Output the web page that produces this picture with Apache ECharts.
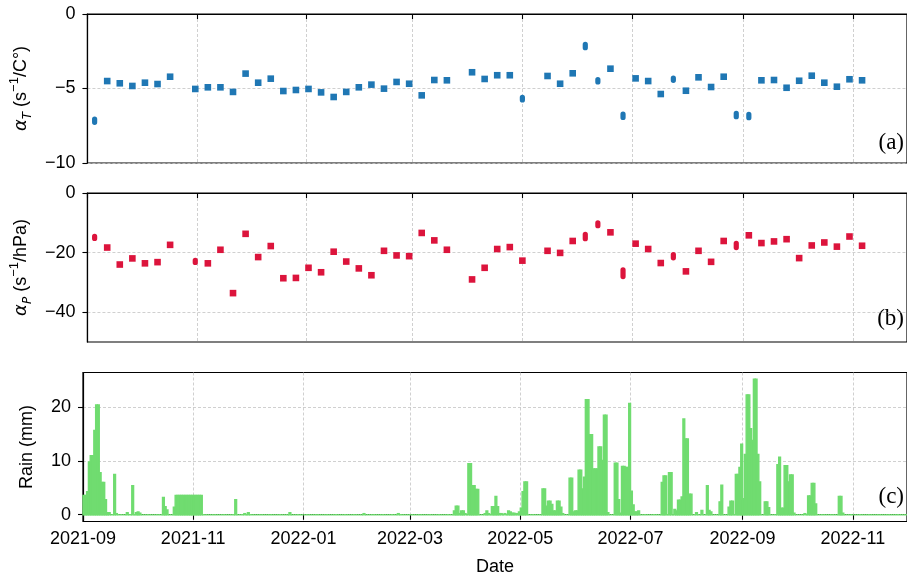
<!DOCTYPE html>
<html><head><meta charset="utf-8">
<script src="https://cdn.jsdelivr.net/npm/echarts@6/dist/echarts.min.js"></script>
<style>html,body{margin:0;padding:0;background:#fff}#c{width:907px;height:578px}</style>
</head><body><div id="c"></div>
<script>
// ---------------- data ----------------
const xStart = '2021-09-01', xEnd = '2022-12-01';
const xTickDates = ['2021-09-01','2021-11-01','2022-01-01','2022-03-01','2022-05-01','2022-07-01','2022-09-01','2022-11-01'];
const yTicksA = [-10, -5, 0];
const yTicksB = [-40, -20, 0];
const yTicksC = [0, 10, 20];

const pointDates = [
 '2021-09-05','2021-09-12','2021-09-19','2021-09-26','2021-10-03','2021-10-10','2021-10-17',
 '2021-10-31','2021-11-07','2021-11-14','2021-11-21','2021-11-28','2021-12-05','2021-12-12',
 '2021-12-19','2021-12-26','2022-01-02','2022-01-09','2022-01-16','2022-01-23','2022-01-30',
 '2022-02-06','2022-02-13','2022-02-20','2022-02-27','2022-03-06','2022-03-13','2022-03-20',
 '2022-04-03','2022-04-10','2022-04-17','2022-04-24','2022-05-01',
 '2022-05-15','2022-05-22','2022-05-29','2022-06-05','2022-06-12','2022-06-19','2022-06-26',
 '2022-07-03','2022-07-10','2022-07-17','2022-07-24','2022-07-31','2022-08-07','2022-08-14',
 '2022-08-21','2022-08-28','2022-09-04','2022-09-11','2022-09-18','2022-09-25','2022-10-02',
 '2022-10-09','2022-10-16','2022-10-23','2022-10-30','2022-11-06'
];
const alphaT = [
 -7.16,-4.50,-4.65,-4.83,-4.61,-4.70,-4.21,
 -5.03,-4.92,-4.92,-5.23,-4.00,-4.61,-4.34,
 -5.17,-5.10,-5.03,-5.26,-5.57,-5.23,-4.92,
 -4.74,-5.01,-4.56,-4.68,-5.46,-4.43,-4.45,
 -3.91,-4.36,-4.11,-4.11,-5.68,
 -4.16,-4.68,-3.98,-2.15,-4.48,-3.67,-6.83,
 -4.32,-4.50,-5.37,-4.38,-5.15,-4.25,-4.90,
 -4.21,-6.78,-6.85,-4.45,-4.43,-4.95,-4.48,
 -4.14,-4.61,-4.88,-4.38,-4.45
];
const alphaTErr = [
 0.11,0,0,0,0,0,0,
 0,0,0,0,0,0,0,
 0,0,0,0,0,0,0,
 0,0,0,0,0,0,0,
 0,0,0,0,0.09,
 0,0,0,0.11,0.08,0,0.11,
 0,0,0,0.07,0,0,0,
 0,0.11,0.11,0,0,0,0,
 0,0,0,0,0
];
const alphaP = [
 -14.9,-18.3,-24.0,-21.95,-23.6,-23.2,-17.4,
 -22.96,-23.6,-19.05,-33.6,-13.7,-21.5,-17.8,
 -28.6,-28.5,-25.1,-26.6,-19.7,-23.0,-25.3,
 -27.6,-19.4,-20.95,-21.2,-13.4,-15.9,-19.05,
 -29.0,-25.1,-18.8,-18.15,-22.7,
 -19.4,-20.1,-16.1,-14.6,-10.5,-13.2,-26.9,
 -17.0,-18.8,-23.5,-21.2,-26.3,-19.4,-23.1,
 -16.1,-17.6,-14.2,-16.8,-16.25,-15.5,-21.85,
 -17.6,-16.6,-18.0,-14.6,-17.7
];
const alphaPErr = [
 0.34,0,0,0,0,0,0,
 0.34,0,0,0,0,0,0,
 0,0,0,0,0,0,0,
 0,0,0,0,0,0,0,
 0,0,0,0,0,
 0,0,0,0.72,0.45,0,1.13,
 0,0,0,0.55,0,0,0,
 0,0.72,0,0,0,0,0,
 0,0,0,0,0
];

// daily rain (mm), from 2021-09-01, one array per month
const rainStart = '2021-09-01';
const rainSep21 = [3.6,3.6,4.3,9.8,11.0,11.0,15.7,20.4,20.4,7.8, 6.0,6.0,2.8,0.4,0.4,0,0,7.5,0.2,0, 0,0,0,0,0.4,0,0,5.4,0,0.4];
const rainOct21 = [0.5,0.3,0,0,0,0,0,0,0,0, 0,0,0,0,3.2,1.5,0.9,0,0,0, 1.4,3.6,3.6,3.6,3.6,3.6,3.6,3.6,3.6,3.6, 3.6];
const rainNov21 = [3.6,3.6,3.6,3.6,3.6,0,0,0,0,0, 0,0,0,0,0,0,0,0,0,0, 0,0,0,2.8,0,0,0,0,0.2,0];
const rainDec21 = [0.4,0,0,0,0,0,0,0,0,0, 0,0,0,0,0,0,0,0,0,0, 0,0,0,0.4,0,0,0,0,0,0, 0];
const rainJan22 = [0,0,0,0,0,0,0,0,0,0, 0,0,0,0,0,0,0,0,0,0, 0,0,0,0,0,0,0,0,0,0, 0];
const rainFeb22 = [0,0,0.2,0,0,0,0,0,0,0, 0,0,0,0,0,0,0,0,0,0, 0,0.2,0,0,0,0,0,0];
const rainMar22 = [0,0,0,0,0,0,0,0,0,0, 0,0,0,0,0,0,0,0,0,0, 0,0,0,0,0.7,1.6,1.6,0.2,0.7,0.7, 0.2];
const rainApr22 = [0,9.5,9.5,5.4,5.4,4.7,4.7,0,0,0, 0.2,0.7,0.2,0,1.5,1.5,3.4,1.5,0.2,0.2, 0,0.2,0,0.7,0.5,0.3,0.3,0.2,0.2,0.5];
const rainMay22 = [1.2,4.3,6.1,6.1,0,0,0,0,0,0, 0,0,4.8,4.8,1.6,2.5,2.5,1.9,0.7,0.7, 2.5,2.5,1.4,0.2,0,0,0,6.8,6.8,0.5, 0.7];
const rainJun22 = [0.7,8.3,8.3,4.8,7.0,21.4,21.4,14.9,14.9,8.5, 8.5,8.5,12.6,12.6,10.1,18.5,18.5,0.4,0,0, 0,9.6,9.6,2.8,0.3,9.0,9.0,8.8,8.8,20.7];
const rainJul22 = [4.4,1.8,0.5,0.5,0.7,0,0,0,0,0, 0,0,0,0,0,0,0,6.0,7.2,7.2, 0,7.8,7.8,0,1.0,0.7,2.7,2.7,3.3,17.8, 14.1];
const rainAug22 = [14.1,3.8,3.8,0,0,0.4,0,0,0.8,0, 0,5.4,0.8,0.5,0,0,0,0,2.4,5.5, 0,0,0,1.4,2.5,2.5,0,7.5,7.5,8.8, 13.1];
const rainSep22 = [3.0,11.2,22.3,22.3,16.0,13.8,25.2,25.2,11.2,6.1, 0,0,2.4,2.4,1.3,0,0,0,0,9.3, 10.7,1.2,1.2,9.1,9.1,6.1,7.4,7.4,0.3,0];
const rainOct22 = [0,0,0,0,0.2,0,3.5,3.5,5.8,5.8, 2.0,0,0,0,0,0,0,0,0,0, 0,0,0,3.4,3.4,0.3,0,0,0,0, 0];
const rainNov22 = [0,0,0,0,0,0,0,0,0,0, 0,0,0,0,0,0,0,0,0,0, 0,0,0,0,0,0,0,0,0,0];

// ---------------- build ----------------
const DAY = 86400000;
function toMs(s){ const p = s.split('-').map(Number); return Date.UTC(p[0], p[1]-1, p[2]); }
const xMin = toMs(xStart), xMax = toMs(xEnd);
const xTicks = xTickDates.map(toMs);
const rainAll = [].concat(rainSep21, rainOct21, rainNov21, rainDec21, rainJan22, rainFeb22, rainMar22,
  rainApr22, rainMay22, rainJun22, rainJul22, rainAug22, rainSep22, rainOct22, rainNov22);
const r0 = toMs(rainStart);
const rainData = rainAll.map((v, i) => [r0 + i*DAY, v]);

const FONT = 'Liberation Sans';
const GREEN = '#70dc70';
const gridLine = {show: true, lineStyle: {color: '#c4c4c4', width: 0.8, type: [3, 2]}};
const axisLineStyle = {color: '#000', width: 1.2};
const tickStyle = {color: '#000', width: 1.1};
const labelStyle = {color: '#000', fontSize: 18, fontFamily: FONT};

function fmtMonth(v){ const d = new Date(v); return d.getUTCFullYear() + '-' + String(d.getUTCMonth()+1).padStart(2,'0'); }
function fmtNum(v){ return String(v).replace('-', '\u2212'); }

function xAxis(i, labels){
  return {type: 'value', gridIndex: i, min: xMin, max: xMax,
    axisLine: {show: true, lineStyle: axisLineStyle},
    axisTick: {show: true, inside: false, length: 5, lineStyle: tickStyle, customValues: xTicks},
    axisLabel: Object.assign({show: labels, customValues: xTicks, formatter: fmtMonth, margin: 9}, labelStyle),
    splitLine: gridLine,
    name: labels ? 'Date' : '', nameLocation: 'middle', nameGap: 37,
    nameTextStyle: {color: '#000', fontSize: 18, fontFamily: FONT}
  };
}
const richName = {
  i: {fontStyle: 'italic', fontSize: 18, fontFamily: 'DejaVu Sans', color: '#000', lineHeight: 26},
  sub: {fontStyle: 'italic', fontSize: 12, fontFamily: 'DejaVu Sans', color: '#000', verticalAlign: 'bottom', lineHeight: 12},
  sup: {fontSize: 13, fontFamily: FONT, color: '#000', verticalAlign: 'top', lineHeight: 13}
};
function yAxis(i, min, max, ticks, name, gap){
  return {type: 'value', gridIndex: i, min: min, max: max,
    axisLine: {show: true, lineStyle: axisLineStyle},
    axisTick: {show: true, inside: false, length: 5, lineStyle: tickStyle, customValues: ticks},
    axisLabel: Object.assign({customValues: ticks, formatter: fmtNum, margin: 12}, labelStyle),
    splitLine: gridLine,
    name: name, nameLocation: 'middle', nameRotate: 90, nameGap: gap,
    nameTextStyle: {color: '#000', fontSize: 18, fontFamily: FONT, lineHeight: 26, rich: richName}
  };
}
function markerRenderer(color){
  return function(params, api){
    const x = api.value(0), y = api.value(1), e = api.value(2);
    const c = api.coord([x, y]);
    if (e > 0){
      const top = api.coord([x, y + e])[1];
      const half = (c[1] - top) + 2.6;
      return {type: 'rect', shape: {x: c[0]-2.6, y: c[1]-half, width: 5.2, height: 2*half, r: 2.6}, style: {fill: color}};
    }
    return {type: 'rect', shape: {x: c[0]-3.3, y: c[1]-3.3, width: 6.6, height: 6.6}, style: {fill: color}};
  };
}
function rainRenderer(params, api){
  const t = api.value(0), v = api.value(1);
  const p0 = api.coord([t, v]);
  const p1 = api.coord([t + DAY, 0]);
  return {type: 'rect', shape: {x: p0[0], y: p0[1], width: p1[0] - p0[0], height: p1[1] - p0[1]},
    style: {fill: GREEN, stroke: GREEN, lineWidth: 1.4}};
}

const gridBox = {show: true, borderColor: '#000', borderWidth: 1.2, backgroundColor: 'transparent'};
const option = {
  animation: false,
  backgroundColor: '#fff',
  grid: [
    Object.assign({left: 83, width: 834, top: 14, height: 149}, gridBox),
    Object.assign({left: 83, width: 834, top: 193, height: 149}, gridBox),
    Object.assign({left: 83, width: 834, top: 372.5, height: 149}, gridBox)
  ],
  xAxis: [xAxis(0, false), xAxis(1, false), xAxis(2, true)],
  yAxis: [
    yAxis(0, -10, 0, yTicksA, '{i|α}{sub|T} (s{sup|−1}/C°)', 47),
    yAxis(1, -50, 0, yTicksB, '{i|α}{sub|P} (s{sup|−1}/hPa)', 47),
    yAxis(2, -1.26, 26.46, yTicksC, 'Rain (mm)', 38)
  ],
  series: [
    {type: 'custom', xAxisIndex: 0, yAxisIndex: 0, renderItem: markerRenderer('#1f77b4'),
      encode: {x: 0, y: 1}, data: pointDates.map((d, i) => [toMs(d), alphaT[i], alphaTErr[i]])},
    {type: 'custom', xAxisIndex: 1, yAxisIndex: 1, renderItem: markerRenderer('#dc143c'),
      encode: {x: 0, y: 1}, data: pointDates.map((d, i) => [toMs(d), alphaP[i], alphaPErr[i]])},
    {type: 'custom', xAxisIndex: 2, yAxisIndex: 2, renderItem: rainRenderer,
      encode: {x: 0, y: 1}, data: rainData}
  ],
  graphic: [
    {type: 'text', x: 904, y: 143, style: {text: '(a)', fontSize: 23, fontFamily: 'Liberation Serif', fill: '#000', align: 'right', verticalAlign: 'middle'}},
    {type: 'text', x: 904, y: 319, style: {text: '(b)', fontSize: 23, fontFamily: 'Liberation Serif', fill: '#000', align: 'right', verticalAlign: 'middle'}},
    {type: 'text', x: 904, y: 497, style: {text: '(c)', fontSize: 23, fontFamily: 'Liberation Serif', fill: '#000', align: 'right', verticalAlign: 'middle'}}
  ]
};
const chart = echarts.init(document.getElementById('c'), null, {renderer: 'canvas'});
chart.setOption(option);
</script>
</body></html>
